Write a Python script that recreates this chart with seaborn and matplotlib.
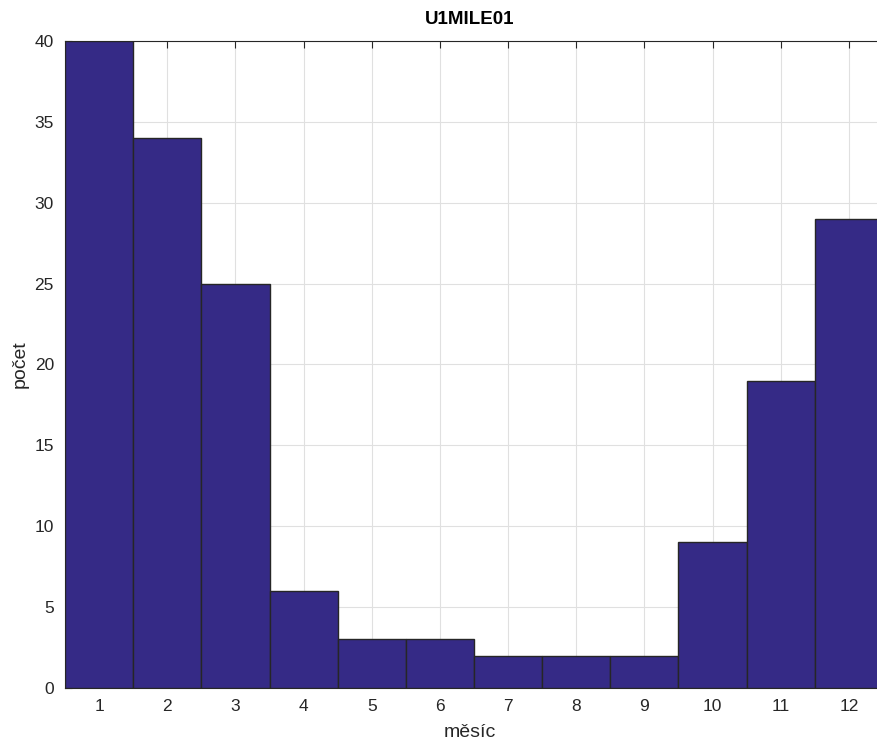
import matplotlib
matplotlib.use("Agg")
import matplotlib.pyplot as plt
import seaborn as sns
import pandas as pd

months = [1, 2, 3, 4, 5, 6, 7, 8, 9, 10, 11, 12]
counts = [40, 34, 25, 6, 3, 3, 2, 2, 2, 9, 19, 29]
y_ticks = [0, 5, 10, 15, 20, 25, 30, 35, 40]

sns.set_style("white")
plt.rcParams["font.family"] = ["Liberation Sans", "DejaVu Sans"]

df = pd.DataFrame({"month": months, "count": counts})

W, H = 877, 742
AX_W = 818
fig = plt.figure(figsize=(W / 100, H / 100), dpi=100)
ax = fig.add_axes([65 / W, (H - 688) / H, AX_W / W, (688 - 41) / H])

sns.barplot(data=df, x="month", y="count", native_scale=True, width=1,
            color="#352A86", edgecolor="#262626", linewidth=1.0,
            saturation=1, ax=ax, zorder=3)

ax.set_xlim(0.5, 12.5)
ax.set_ylim(0, 40)
ax.set_xticks(months)
ax.set_xticklabels([str(m) for m in months])
ax.set_yticks(y_ticks)

ax.grid(True, color="#e0e0e0", linewidth=0.8, zorder=0)
ax.set_axisbelow(True)

ax.tick_params(axis="both", direction="in", length=5, width=0.8,
               colors="#262626", labelsize=12.5, labelcolor="#262626",
               top=True, right=False, bottom=True, left=True, pad=8)
for side in ["top", "bottom", "left", "right"]:
    ax.spines[side].set_visible(True)
    ax.spines[side].set_color("#262626")
    ax.spines[side].set_linewidth(0.8)

ax.set_title("U1MILE01", fontsize=13.5, fontweight="bold", color="black",
             pad=12, x=(470 - 65) / AX_W)
ax.set_xlabel("měsíc", fontsize=14, color="#262626", labelpad=9)
ax.xaxis.set_label_coords((470 - 65) / AX_W, -0.055)
ax.set_ylabel("počet", fontsize=14, color="#262626", labelpad=4)

fig.savefig("out.png", dpi=100)
